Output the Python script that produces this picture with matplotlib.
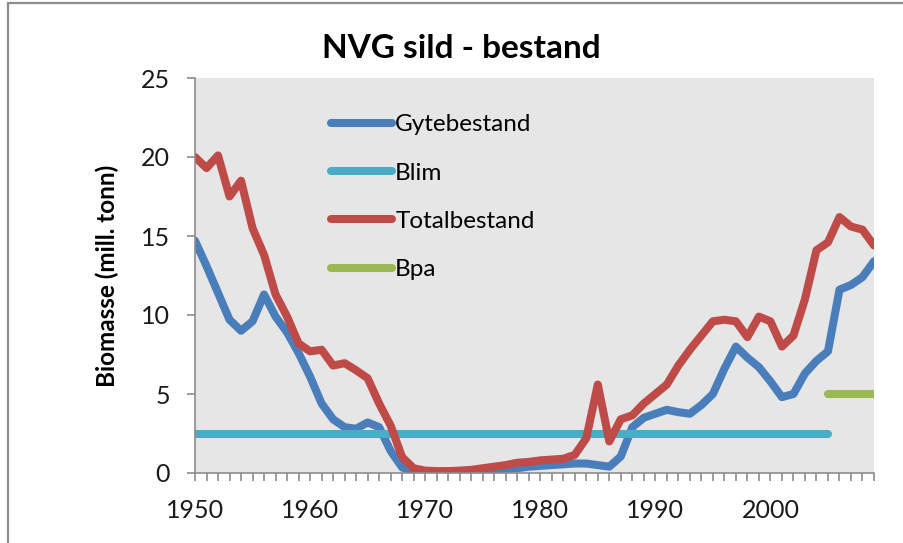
import matplotlib
matplotlib.use("Agg")
from matplotlib import pyplot as plt
from matplotlib.patches import Rectangle

years = list(range(1950, 2010))

gytebestand = [
    14.7, 13.1, 11.4, 9.7, 9.0, 9.6, 11.3, 9.9, 8.9, 7.6,
    6.1, 4.4, 3.4, 2.9, 2.8, 3.2, 2.9, 1.4, 0.35, 0.05,
    0.03, 0.03, 0.03, 0.05, 0.05, 0.08, 0.15, 0.25, 0.3, 0.4,
    0.45, 0.5, 0.55, 0.6, 0.6, 0.5, 0.4, 1.05, 2.9, 3.5,
    3.75, 4.0, 3.85, 3.75, 4.3, 5.0, 6.6, 8.0, 7.3, 6.7,
    5.8, 4.8, 5.0, 6.3, 7.1, 7.7, 11.6, 11.9, 12.4, 13.4,
]

totalbestand = [
    20.0, 19.3, 20.1, 17.5, 18.5, 15.5, 13.8, 11.3, 9.9, 8.2,
    7.7, 7.8, 6.8, 6.95, 6.5, 6.0, 4.4, 3.0, 1.0, 0.3,
    0.15, 0.12, 0.12, 0.15, 0.2, 0.3, 0.4, 0.5, 0.65, 0.7,
    0.8, 0.85, 0.9, 1.15, 2.2, 5.6, 2.0, 3.4, 3.65, 4.4,
    5.0, 5.6, 6.8, 7.8, 8.7, 9.6, 9.7, 9.6, 8.6, 9.9,
    9.6, 8.0, 8.7, 11.0, 14.1, 14.6, 16.2, 15.6, 15.4, 14.4,
]

blim_years = [1950, 2005]
blim = [2.5, 2.5]
bpa_years = [2005, 2009]
bpa = [5.0, 5.0]

decades = [1950, 1960, 1970, 1980, 1990, 2000]

plt.rcParams['font.family'] = ['Lato', 'DejaVu Sans']

fig = plt.figure(figsize=(9.04, 5.43), dpi=100)
fig.patches.append(Rectangle((8/904, -0.05), 1.0, 1 - 3/543 + 0.05, transform=fig.transFigure,
                             fill=False, edgecolor='#8c8c8c', linewidth=1.6))

ax = fig.add_axes([195/904, 1 - 473/543, 679/904, 395/543])
ax.set_facecolor('#e6e6e6')

lw = 5.8
ax.plot(years, gytebestand, color='#4a7ebb', lw=lw, label='Gytebestand', solid_capstyle='round', solid_joinstyle='round')
ax.plot(blim_years, blim, color='#4bacc6', lw=lw, label='Blim', solid_capstyle='round')
ax.plot(years, totalbestand, color='#be4b48', lw=lw, label='Totalbestand', solid_capstyle='round', solid_joinstyle='round')
ax.plot(bpa_years, bpa, color='#98b954', lw=lw, label='Bpa', solid_capstyle='round')

ax.set_xlim(1950, 2009)
ax.set_ylim(0, 25)
ax.set_yticks([0, 5, 10, 15, 20, 25])
ax.set_xticks(years)
ax.set_xticklabels([str(y) if y in decades else '' for y in years])

for side in ['top', 'right']:
    ax.spines[side].set_visible(False)
for side in ['left', 'bottom']:
    ax.spines[side].set_color('#8c8c8c')
    ax.spines[side].set_linewidth(1.2)

ax.tick_params(axis='both', colors='#8c8c8c', labelcolor='#1a1a1a', labelsize=18, length=6, width=1.2)
ax.tick_params(axis='x', pad=13)
ax.tick_params(axis='y', pad=12)
ax.set_ylabel('Biomasse (mill. tonn)', fontsize=17.5, fontweight='bold', labelpad=16)

fig.text(461/904, 1 - 48/543, 'NVG sild - bestand', fontsize=24, fontweight='bold',
         ha='center', va='center')

ax.legend(loc='upper left', bbox_to_anchor=(0.2, 0.908), frameon=False, fontsize=17.5,
          handlelength=2.5, handletextpad=0.15, labelspacing=1.12, borderpad=0, borderaxespad=0)

fig.savefig('out.png', dpi=100)
